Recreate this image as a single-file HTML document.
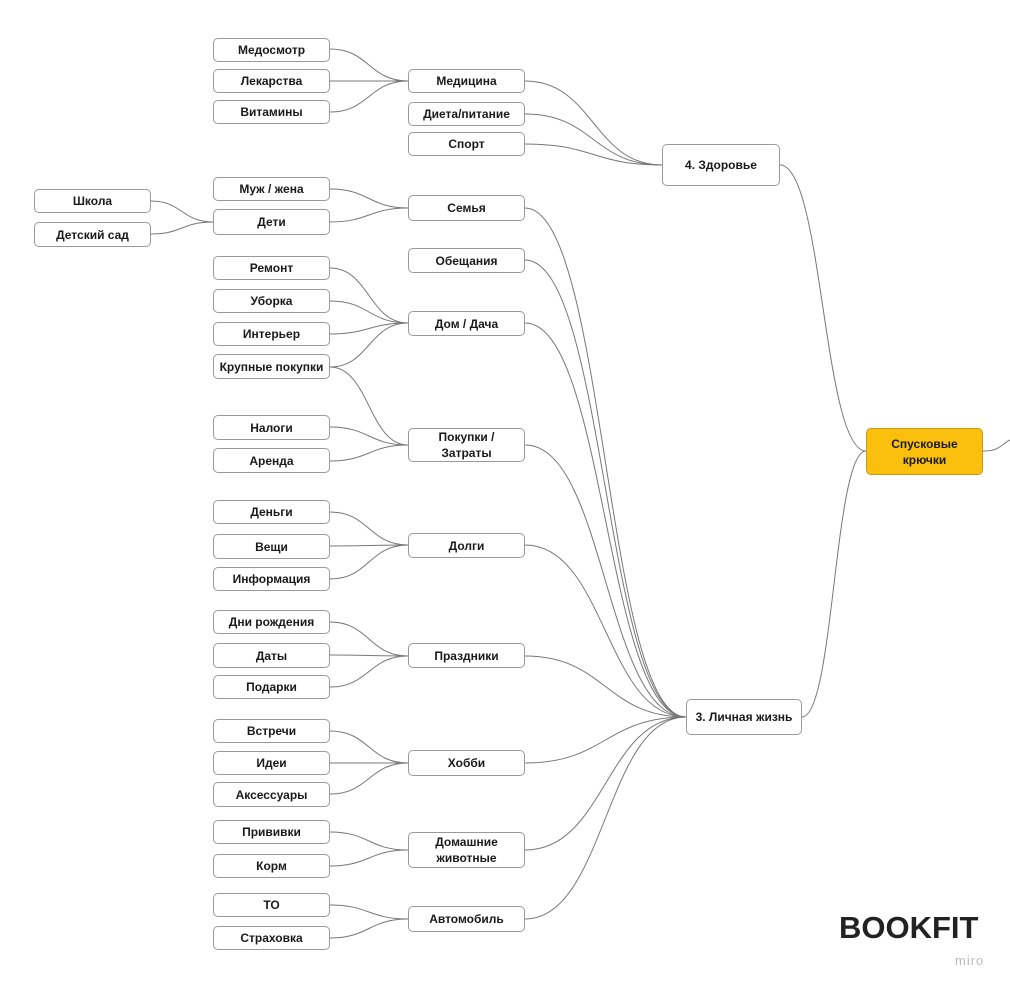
<!DOCTYPE html>
<html><head><meta charset="utf-8"><style>
html,body{margin:0;padding:0;background:#fff;width:1010px;height:989px;overflow:hidden;position:relative;font-family:"Liberation Sans","DejaVu Sans",sans-serif}
.n{position:absolute;box-sizing:border-box;border:1px solid #9a9a9a;border-radius:5px;background:#fff;display:flex;align-items:center;justify-content:center;text-align:center;font-weight:bold;font-size:12px;color:#1a1a1a;line-height:16px}
svg{position:absolute;left:0;top:0}
.logo{position:absolute;left:839px;top:910px;font-size:31px;font-weight:bold;color:#222;letter-spacing:0px}
.miro{position:absolute;left:955px;top:953px;font-size:13px;color:#bbb;letter-spacing:1px}
</style></head><body>
<svg id="s" width="1010" height="989"></svg>
<div class="n" style="left:213px;top:38px;width:117px;height:24px">Медосмотр</div>
<div class="n" style="left:213px;top:69px;width:117px;height:24px">Лекарства</div>
<div class="n" style="left:213px;top:100px;width:117px;height:24px">Витамины</div>
<div class="n" style="left:213px;top:177px;width:117px;height:24px">Муж / жена</div>
<div class="n" style="left:213px;top:209px;width:117px;height:26px">Дети</div>
<div class="n" style="left:34px;top:189px;width:117px;height:24px">Школа</div>
<div class="n" style="left:34px;top:222px;width:117px;height:25px">Детский сад</div>
<div class="n" style="left:213px;top:256px;width:117px;height:24px">Ремонт</div>
<div class="n" style="left:213px;top:289px;width:117px;height:24px">Уборка</div>
<div class="n" style="left:213px;top:322px;width:117px;height:24px">Интерьер</div>
<div class="n" style="left:213px;top:354px;width:117px;height:25px">Крупные покупки</div>
<div class="n" style="left:213px;top:415px;width:117px;height:25px">Налоги</div>
<div class="n" style="left:213px;top:448px;width:117px;height:25px">Аренда</div>
<div class="n" style="left:213px;top:500px;width:117px;height:24px">Деньги</div>
<div class="n" style="left:213px;top:534px;width:117px;height:25px">Вещи</div>
<div class="n" style="left:213px;top:567px;width:117px;height:24px">Информация</div>
<div class="n" style="left:213px;top:610px;width:117px;height:24px">Дни рождения</div>
<div class="n" style="left:213px;top:643px;width:117px;height:25px">Даты</div>
<div class="n" style="left:213px;top:675px;width:117px;height:24px">Подарки</div>
<div class="n" style="left:213px;top:719px;width:117px;height:24px">Встречи</div>
<div class="n" style="left:213px;top:751px;width:117px;height:24px">Идеи</div>
<div class="n" style="left:213px;top:782px;width:117px;height:25px">Аксессуары</div>
<div class="n" style="left:213px;top:820px;width:117px;height:24px">Прививки</div>
<div class="n" style="left:213px;top:854px;width:117px;height:24px">Корм</div>
<div class="n" style="left:213px;top:893px;width:117px;height:24px">ТО</div>
<div class="n" style="left:213px;top:926px;width:117px;height:24px">Страховка</div>
<div class="n" style="left:408px;top:69px;width:117px;height:24px">Медицина</div>
<div class="n" style="left:408px;top:102px;width:117px;height:24px">Диета/питание</div>
<div class="n" style="left:408px;top:132px;width:117px;height:24px">Спорт</div>
<div class="n" style="left:408px;top:195px;width:117px;height:26px">Семья</div>
<div class="n" style="left:408px;top:248px;width:117px;height:25px">Обещания</div>
<div class="n" style="left:408px;top:311px;width:117px;height:25px">Дом / Дача</div>
<div class="n" style="left:408px;top:428px;width:117px;height:34px">Покупки /<br>Затраты</div>
<div class="n" style="left:408px;top:533px;width:117px;height:25px">Долги</div>
<div class="n" style="left:408px;top:643px;width:117px;height:25px">Праздники</div>
<div class="n" style="left:408px;top:750px;width:117px;height:26px">Хобби</div>
<div class="n" style="left:408px;top:832px;width:117px;height:36px">Домашние<br>животные</div>
<div class="n" style="left:408px;top:906px;width:117px;height:26px">Автомобиль</div>
<div class="n" style="left:662px;top:144px;width:118px;height:42px">4. Здоровье</div>
<div class="n" style="left:686px;top:699px;width:116px;height:36px">3. Личная жизнь</div>
<div class="n" style="left:866px;top:428px;width:117px;height:47px;background:#fbc00e;border-color:#c99a10">Спусковые<br>крючки</div>
<div class="logo">BOOKFIT</div>
<div class="miro">miro</div>
<script>
var s=document.getElementById('s'),d='';
function c(x1,y1,x2,y2){var m=(x1+x2)/2;d+='<path d="M'+x1+' '+y1+' C'+m+' '+y1+','+m+' '+y2+','+x2+' '+y2+'"/>';}
var L=[[81,[49,81,112]],[208,[189,222]],[323,[268,301,334,367]],[445,[367,427,461]],[545,[512,546,579]],[656,[622,655,687]],[763,[731,763,794]],[850,[832,866]],[919,[905,938]]];
L.forEach(function(g){g[1].forEach(function(y){c(408,g[0],330,y);});});
c(213,222,151,201);c(213,222,151,234);
[81,114,144].forEach(function(y){c(662,165,525,y);});
[208,260,323,445,545,656,763,850,919].forEach(function(y){c(686,717,525,y);});
c(866,451,780,165);c(866,451,802,717);
d+='<path d="M983 451 C1000 451,1000 445,1010 440"/>';
s.innerHTML='<g fill="none" stroke="#777" stroke-width="1">'+d+'</g>';
</script>
</body></html>
